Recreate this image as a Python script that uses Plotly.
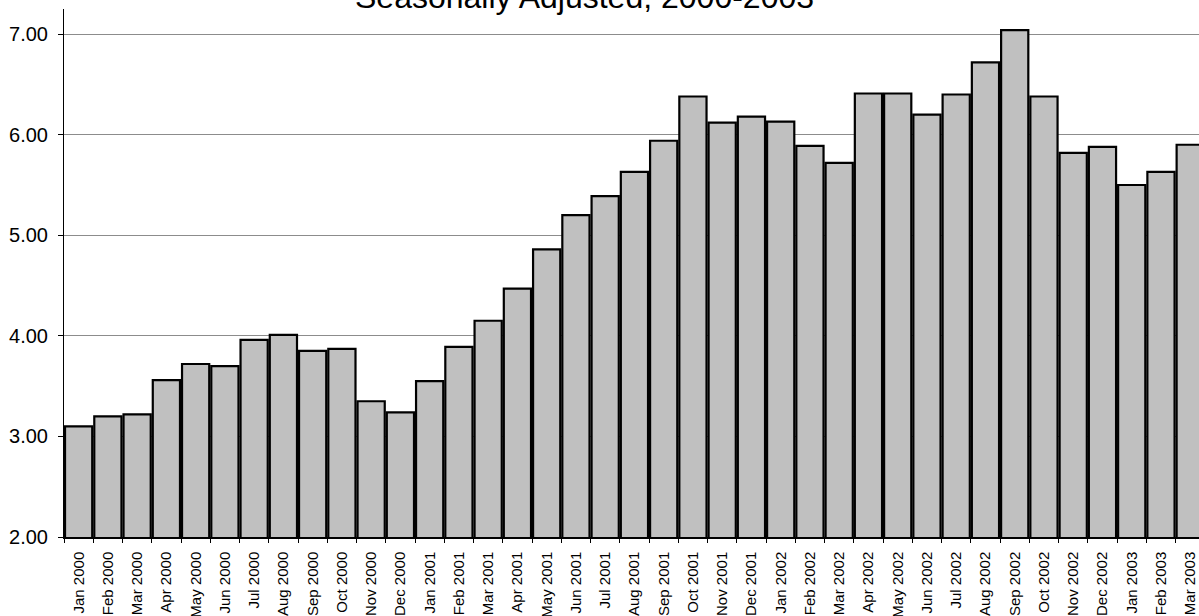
import plotly.graph_objects as go

# Monthly values, Jan 2000 - Mar 2003 (seasonally adjusted)
months = [
    "Jan 2000", "Feb 2000", "Mar 2000", "Apr 2000", "May 2000", "Jun 2000",
    "Jul 2000", "Aug 2000", "Sep 2000", "Oct 2000", "Nov 2000", "Dec 2000",
    "Jan 2001", "Feb 2001", "Mar 2001", "Apr 2001", "May 2001", "Jun 2001",
    "Jul 2001", "Aug 2001", "Sep 2001", "Oct 2001", "Nov 2001", "Dec 2001",
    "Jan 2002", "Feb 2002", "Mar 2002", "Apr 2002", "May 2002", "Jun 2002",
    "Jul 2002", "Aug 2002", "Sep 2002", "Oct 2002", "Nov 2002", "Dec 2002",
    "Jan 2003", "Feb 2003", "Mar 2003",
]
values = [
    3.10, 3.20, 3.22, 3.56, 3.72, 3.70, 3.96, 4.01, 3.85, 3.87, 3.35, 3.24,
    3.55, 3.89, 4.15, 4.47, 4.86, 5.20, 5.39, 5.63, 5.94, 6.38, 6.12, 6.18,
    6.13, 5.89, 5.72, 6.41, 6.41, 6.20, 6.40, 6.72, 7.04, 6.38, 5.82, 5.88,
    5.50, 5.63, 5.90,
]
y_ticks = [2, 3, 4, 5, 6, 7]
title_text = "Seasonally Adjusted, 2000-2003"

FONT = "Liberation Sans, Arial, Helvetica, sans-serif"

fig = go.Figure(
    go.Bar(
        x=months,
        y=values,
        marker=dict(color="#C0C0C0", line=dict(color="#000000", width=2.2)),
        hoverinfo="x+y",
    )
)

fig.update_layout(
    template="none",
    width=1199,
    height=616,
    margin=dict(l=64, r=0, t=9, b=79, autoexpand=False),
    paper_bgcolor="white",
    plot_bgcolor="white",
    bargap=0.07,
    showlegend=False,
    font=dict(family=FONT, color="black"),
    annotations=[
        dict(
            text=title_text,
            xref="paper", yref="paper",
            x=0.4583, y=1.0,
            xanchor="center", yanchor="bottom",
            yshift=-8,
            showarrow=False,
            font=dict(family=FONT, size=32, color="black"),
        )
    ],
)

fig.update_xaxes(
    type="category",
    range=[-0.5, 38.30],
    tickangle=-90,
    tickson="boundaries",
    ticks="outside",
    ticklen=4,
    tickcolor="black",
    tickfont=dict(family=FONT, size=15, color="black"),
    ticklabelstandoff=7,
    showline=True,
    linecolor="black",
    linewidth=1.5,
    showgrid=False,
    zeroline=False,
    automargin=False,
)

fig.update_yaxes(
    range=[2, 7.25],
    tickvals=y_ticks,
    tickformat=".2f",
    ticks="outside",
    ticklen=5,
    tickcolor="black",
    tickfont=dict(family=FONT, size=20, color="black"),
    ticklabelstandoff=6,
    showline=True,
    linecolor="black",
    linewidth=1,
    showgrid=True,
    gridcolor="#8c8c8c",
    gridwidth=1,
    zeroline=False,
    automargin=False,
)

fig.write_html("out.html", config={"displayModeBar": False})
